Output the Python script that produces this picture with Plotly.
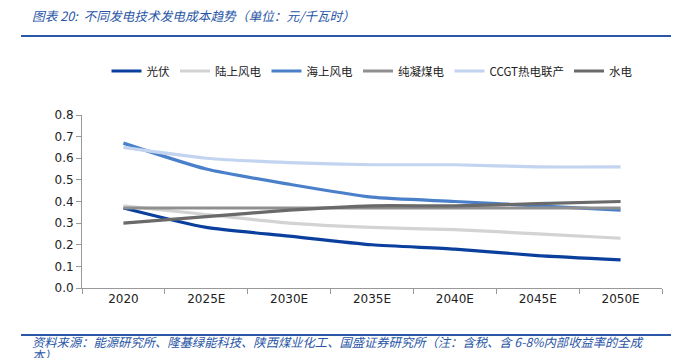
import plotly.graph_objects as go

categories = ["2020", "2025E", "2030E", "2035E", "2040E", "2045E", "2050E"]
pv = [0.37, 0.28, 0.24, 0.20, 0.18, 0.15, 0.13]
onshore = [0.38, 0.34, 0.30, 0.28, 0.27, 0.25, 0.23]
offshore = [0.67, 0.55, 0.48, 0.42, 0.40, 0.38, 0.36]
coal = [0.37, 0.37, 0.37, 0.37, 0.37, 0.37, 0.37]
ccgt = [0.65, 0.60, 0.58, 0.57, 0.57, 0.56, 0.56]
hydro = [0.30, 0.33, 0.36, 0.38, 0.38, 0.39, 0.40]

series = [
    ("光伏", pv, "#0b3f9e"),
    ("陆上风电", onshore, "#d3d3d3"),
    ("海上风电", offshore, "#4a7fca"),
    ("纯凝煤电", coal, "#8f8f8f"),
    ("CCGT热电联产", ccgt, "#c2d4ef"),
    ("水电", hydro, "#6a6a6a"),
]

FONT = "Verdana, DejaVu Sans, Noto Sans CJK SC, sans-serif"
CJK = "Noto Sans CJK SC, sans-serif"

L, R, T, B = 74, 25, 107, 78
W, H = 679, 358
PW, PH = W - L - R, H - T - B


def px(x):
    return (x - L) / PW


def py(y):
    return (H - B - y) / PH


fig = go.Figure()
for name, vals, color in series:
    fig.add_trace(go.Scatter(
        x=categories, y=vals, name=name, mode="lines",
        line=dict(color=color, width=3.2, shape="spline", smoothing=0.6),
    ))

fig.update_layout(
    width=W, height=H,
    margin=dict(l=L, r=R, t=T, b=B),
    paper_bgcolor="white", plot_bgcolor="white",
    font=dict(family=FONT, size=12, color="#222"),
    showlegend=True,
    legend=dict(orientation="h", x=0.5, xanchor="center", y=1 - 63 / H, yanchor="middle",
                yref="container", font=dict(family=CJK, size=11.5, color="#222"),
                itemwidth=30, tracegroupgap=0),
    xaxis=dict(type="category", range=[-0.5, 6.5], showgrid=False, showline=True,
               linecolor="#999", linewidth=1, ticks="outside", tickson="boundaries",
               ticklen=5, tickcolor="#999", tickfont=dict(size=12, color="#222")),
    yaxis=dict(range=[0, 0.8], dtick=0.1, tickformat=".1f", showgrid=False,
               showline=True, linecolor="#999", linewidth=1, ticks="outside",
               ticklen=5, tickcolor="#999", zeroline=False,
               tickfont=dict(size=12, color="#222")),
)

fig.add_annotation(
    text="<i>图表 20:  不同发电技术发电成本趋势（单位：元/千瓦时）</i>",
    xref="paper", yref="paper", x=px(22), y=py(8),
    showarrow=False, font=dict(family=CJK, size=12.7, color="#2a56a6"),
    xanchor="left", yanchor="middle",
)
footer_lines = [
    "资料来源：能源研究所、隆基绿能科技、陕西煤业化工、国盛证券研究所（注：含税、含 6-8%内部收益率的全成",
    "本）",
]
for txt, yy in zip(footer_lines, (334, 347)):
    fig.add_annotation(
        text=f"<i>{txt}</i>",
        xref="paper", yref="paper", x=px(22), y=py(yy),
        showarrow=False, font=dict(family=CJK, size=12.3, color="#2a56a6"),
        xanchor="left", yanchor="middle", align="left",
    )
for yy in (28, 327):
    fig.add_shape(type="line", xref="paper", yref="paper",
                  x0=px(13), x1=px(679), y0=py(yy), y1=py(yy),
                  line=dict(color="#2b57a8", width=2))

fig.write_html("out.html")
